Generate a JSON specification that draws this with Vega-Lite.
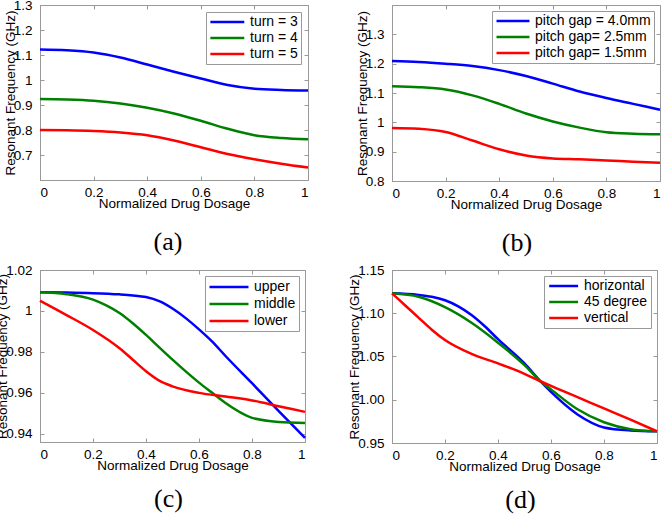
{
  "$schema": "https://vega.github.io/schema/vega-lite/v6.json",
  "padding": {"left": -5, "top": -3, "right": 0, "bottom": 0},
  "background": "white",
  "resolve": {"scale": {"color": "independent", "x": "independent", "y": "independent"}, "legend": {"color": "independent"}, "axis": {"x": "independent", "y": "independent"}},
  "config": {
    "font": "Liberation Sans",
    "view": {"stroke": "#999", "strokeWidth": 1},
    "axis": {
      "grid": false,
      "labelFont": "Liberation Sans",
      "labelFontSize": 13.5,
      "labelColor": "#000",
      "titleFont": "Liberation Sans",
      "titleFontSize": 13.5,
      "titleFontWeight": "normal",
      "titleColor": "#000",
      "domainColor": "#999",
      "tickColor": "#999",
      "tickSize": -4
    },
    "axisX": {"labelPadding": 9, "titlePadding": -2},
    "axisY": {"labelPadding": 12, "titlePadding": -4},
    "legend": {
      "orient": "top-right",
      "offset": 7,
      "title": null,
      "strokeColor": "#999",
      "fillColor": "white",
      "padding": 3,
      "labelFont": "Liberation Sans",
      "labelFontSize": 14,
      "labelColor": "#000",
      "labelLimit": 300,
      "symbolType": "M-1,0H5",
      "symbolStrokeWidth": 2.5,
      "rowPadding": 2
    },
    "title": {"font": "Liberation Serif", "fontSize": 26, "fontWeight": "normal", "color": "#000", "orient": "bottom", "frame": "group"},
    "line": {"strokeWidth": 2.5, "interpolate": "monotone"}
  },
  "datasets": {
    "a": [
      {"dosage": 0, "freq": 1.122, "series": "turn = 3"},
      {"dosage": 0.1, "freq": 1.119, "series": "turn = 3"},
      {"dosage": 0.2, "freq": 1.110, "series": "turn = 3"},
      {"dosage": 0.3, "freq": 1.090, "series": "turn = 3"},
      {"dosage": 0.4, "freq": 1.062, "series": "turn = 3"},
      {"dosage": 0.5, "freq": 1.033, "series": "turn = 3"},
      {"dosage": 0.6, "freq": 1.006, "series": "turn = 3"},
      {"dosage": 0.7, "freq": 0.980, "series": "turn = 3"},
      {"dosage": 0.8, "freq": 0.965, "series": "turn = 3"},
      {"dosage": 0.9, "freq": 0.960, "series": "turn = 3"},
      {"dosage": 1.0, "freq": 0.958, "series": "turn = 3"},
      {"dosage": 0, "freq": 0.924, "series": "turn = 4"},
      {"dosage": 0.1, "freq": 0.922, "series": "turn = 4"},
      {"dosage": 0.2, "freq": 0.917, "series": "turn = 4"},
      {"dosage": 0.3, "freq": 0.906, "series": "turn = 4"},
      {"dosage": 0.4, "freq": 0.889, "series": "turn = 4"},
      {"dosage": 0.5, "freq": 0.866, "series": "turn = 4"},
      {"dosage": 0.6, "freq": 0.837, "series": "turn = 4"},
      {"dosage": 0.7, "freq": 0.805, "series": "turn = 4"},
      {"dosage": 0.8, "freq": 0.779, "series": "turn = 4"},
      {"dosage": 0.9, "freq": 0.768, "series": "turn = 4"},
      {"dosage": 1.0, "freq": 0.763, "series": "turn = 4"},
      {"dosage": 0, "freq": 0.800, "series": "turn = 5"},
      {"dosage": 0.1, "freq": 0.799, "series": "turn = 5"},
      {"dosage": 0.2, "freq": 0.796, "series": "turn = 5"},
      {"dosage": 0.3, "freq": 0.790, "series": "turn = 5"},
      {"dosage": 0.4, "freq": 0.779, "series": "turn = 5"},
      {"dosage": 0.5, "freq": 0.758, "series": "turn = 5"},
      {"dosage": 0.6, "freq": 0.731, "series": "turn = 5"},
      {"dosage": 0.7, "freq": 0.704, "series": "turn = 5"},
      {"dosage": 0.8, "freq": 0.683, "series": "turn = 5"},
      {"dosage": 0.9, "freq": 0.665, "series": "turn = 5"},
      {"dosage": 1.0, "freq": 0.650, "series": "turn = 5"}
    ],
    "b": [
      {"dosage": 0, "freq": 1.209, "series": "pitch gap = 4.0mm"},
      {"dosage": 0.1, "freq": 1.206, "series": "pitch gap = 4.0mm"},
      {"dosage": 0.2, "freq": 1.200, "series": "pitch gap = 4.0mm"},
      {"dosage": 0.3, "freq": 1.192, "series": "pitch gap = 4.0mm"},
      {"dosage": 0.4, "freq": 1.178, "series": "pitch gap = 4.0mm"},
      {"dosage": 0.5, "freq": 1.158, "series": "pitch gap = 4.0mm"},
      {"dosage": 0.6, "freq": 1.132, "series": "pitch gap = 4.0mm"},
      {"dosage": 0.7, "freq": 1.105, "series": "pitch gap = 4.0mm"},
      {"dosage": 0.8, "freq": 1.083, "series": "pitch gap = 4.0mm"},
      {"dosage": 0.9, "freq": 1.063, "series": "pitch gap = 4.0mm"},
      {"dosage": 1.0, "freq": 1.043, "series": "pitch gap = 4.0mm"},
      {"dosage": 0, "freq": 1.123, "series": "pitch gap= 2.5mm"},
      {"dosage": 0.1, "freq": 1.120, "series": "pitch gap= 2.5mm"},
      {"dosage": 0.2, "freq": 1.112, "series": "pitch gap= 2.5mm"},
      {"dosage": 0.3, "freq": 1.092, "series": "pitch gap= 2.5mm"},
      {"dosage": 0.4, "freq": 1.063, "series": "pitch gap= 2.5mm"},
      {"dosage": 0.5, "freq": 1.030, "series": "pitch gap= 2.5mm"},
      {"dosage": 0.6, "freq": 1.003, "series": "pitch gap= 2.5mm"},
      {"dosage": 0.7, "freq": 0.982, "series": "pitch gap= 2.5mm"},
      {"dosage": 0.8, "freq": 0.966, "series": "pitch gap= 2.5mm"},
      {"dosage": 0.9, "freq": 0.961, "series": "pitch gap= 2.5mm"},
      {"dosage": 1.0, "freq": 0.959, "series": "pitch gap= 2.5mm"},
      {"dosage": 0, "freq": 0.981, "series": "pitch gap= 1.5mm"},
      {"dosage": 0.1, "freq": 0.978, "series": "pitch gap= 1.5mm"},
      {"dosage": 0.2, "freq": 0.967, "series": "pitch gap= 1.5mm"},
      {"dosage": 0.3, "freq": 0.938, "series": "pitch gap= 1.5mm"},
      {"dosage": 0.4, "freq": 0.908, "series": "pitch gap= 1.5mm"},
      {"dosage": 0.5, "freq": 0.887, "series": "pitch gap= 1.5mm"},
      {"dosage": 0.6, "freq": 0.877, "series": "pitch gap= 1.5mm"},
      {"dosage": 0.7, "freq": 0.874, "series": "pitch gap= 1.5mm"},
      {"dosage": 0.8, "freq": 0.870, "series": "pitch gap= 1.5mm"},
      {"dosage": 0.9, "freq": 0.866, "series": "pitch gap= 1.5mm"},
      {"dosage": 1.0, "freq": 0.862, "series": "pitch gap= 1.5mm"}
    ],
    "c": [
      {"dosage": 0, "freq": 1.0091, "series": "upper"},
      {"dosage": 0.1, "freq": 1.0090, "series": "upper"},
      {"dosage": 0.2, "freq": 1.0087, "series": "upper"},
      {"dosage": 0.3, "freq": 1.0081, "series": "upper"},
      {"dosage": 0.35, "freq": 1.0076, "series": "upper"},
      {"dosage": 0.4, "freq": 1.0068, "series": "upper"},
      {"dosage": 0.45, "freq": 1.0048, "series": "upper"},
      {"dosage": 0.5, "freq": 1.0012, "series": "upper"},
      {"dosage": 0.55, "freq": 0.9965, "series": "upper"},
      {"dosage": 0.6, "freq": 0.9910, "series": "upper"},
      {"dosage": 0.65, "freq": 0.9850, "series": "upper"},
      {"dosage": 0.7, "freq": 0.9780, "series": "upper"},
      {"dosage": 0.8, "freq": 0.9647, "series": "upper"},
      {"dosage": 0.9, "freq": 0.9512, "series": "upper"},
      {"dosage": 1.0, "freq": 0.9380, "series": "upper"},
      {"dosage": 0, "freq": 1.0091, "series": "middle"},
      {"dosage": 0.1, "freq": 1.0082, "series": "middle"},
      {"dosage": 0.2, "freq": 1.0055, "series": "middle"},
      {"dosage": 0.25, "freq": 1.0027, "series": "middle"},
      {"dosage": 0.3, "freq": 0.9990, "series": "middle"},
      {"dosage": 0.35, "freq": 0.9940, "series": "middle"},
      {"dosage": 0.4, "freq": 0.9883, "series": "middle"},
      {"dosage": 0.45, "freq": 0.9822, "series": "middle"},
      {"dosage": 0.5, "freq": 0.9762, "series": "middle"},
      {"dosage": 0.6, "freq": 0.9650, "series": "middle"},
      {"dosage": 0.65, "freq": 0.9600, "series": "middle"},
      {"dosage": 0.7, "freq": 0.9550, "series": "middle"},
      {"dosage": 0.8, "freq": 0.9478, "series": "middle"},
      {"dosage": 0.9, "freq": 0.9458, "series": "middle"},
      {"dosage": 1.0, "freq": 0.9453, "series": "middle"},
      {"dosage": 0, "freq": 1.0050, "series": "lower"},
      {"dosage": 0.1, "freq": 0.9980, "series": "lower"},
      {"dosage": 0.2, "freq": 0.9907, "series": "lower"},
      {"dosage": 0.3, "freq": 0.9818, "series": "lower"},
      {"dosage": 0.35, "freq": 0.9762, "series": "lower"},
      {"dosage": 0.4, "freq": 0.9706, "series": "lower"},
      {"dosage": 0.45, "freq": 0.9660, "series": "lower"},
      {"dosage": 0.5, "freq": 0.9632, "series": "lower"},
      {"dosage": 0.6, "freq": 0.9600, "series": "lower"},
      {"dosage": 0.7, "freq": 0.9582, "series": "lower"},
      {"dosage": 0.8, "freq": 0.9563, "series": "lower"},
      {"dosage": 0.9, "freq": 0.9535, "series": "lower"},
      {"dosage": 1.0, "freq": 0.9507, "series": "lower"}
    ],
    "d": [
      {"dosage": 0, "freq": 1.123, "series": "horizontal"},
      {"dosage": 0.1, "freq": 1.1212, "series": "horizontal"},
      {"dosage": 0.15, "freq": 1.119, "series": "horizontal"},
      {"dosage": 0.2, "freq": 1.115, "series": "horizontal"},
      {"dosage": 0.25, "freq": 1.108, "series": "horizontal"},
      {"dosage": 0.3, "freq": 1.098, "series": "horizontal"},
      {"dosage": 0.35, "freq": 1.085, "series": "horizontal"},
      {"dosage": 0.4, "freq": 1.070, "series": "horizontal"},
      {"dosage": 0.5, "freq": 1.042, "series": "horizontal"},
      {"dosage": 0.56, "freq": 1.0214, "series": "horizontal"},
      {"dosage": 0.6, "freq": 1.009, "series": "horizontal"},
      {"dosage": 0.7, "freq": 0.983, "series": "horizontal"},
      {"dosage": 0.8, "freq": 0.968, "series": "horizontal"},
      {"dosage": 0.9, "freq": 0.9645, "series": "horizontal"},
      {"dosage": 1.0, "freq": 0.9635, "series": "horizontal"},
      {"dosage": 0, "freq": 1.123, "series": "45 degree"},
      {"dosage": 0.1, "freq": 1.119, "series": "45 degree"},
      {"dosage": 0.2, "freq": 1.107, "series": "45 degree"},
      {"dosage": 0.3, "freq": 1.089, "series": "45 degree"},
      {"dosage": 0.4, "freq": 1.066, "series": "45 degree"},
      {"dosage": 0.5, "freq": 1.040, "series": "45 degree"},
      {"dosage": 0.56, "freq": 1.0214, "series": "45 degree"},
      {"dosage": 0.6, "freq": 1.012, "series": "45 degree"},
      {"dosage": 0.7, "freq": 0.989, "series": "45 degree"},
      {"dosage": 0.8, "freq": 0.974, "series": "45 degree"},
      {"dosage": 0.9, "freq": 0.966, "series": "45 degree"},
      {"dosage": 1.0, "freq": 0.9635, "series": "45 degree"},
      {"dosage": 0, "freq": 1.123, "series": "vertical"},
      {"dosage": 0.05, "freq": 1.109, "series": "vertical"},
      {"dosage": 0.1, "freq": 1.095, "series": "vertical"},
      {"dosage": 0.15, "freq": 1.081, "series": "vertical"},
      {"dosage": 0.2, "freq": 1.069, "series": "vertical"},
      {"dosage": 0.3, "freq": 1.053, "series": "vertical"},
      {"dosage": 0.4, "freq": 1.042, "series": "vertical"},
      {"dosage": 0.5, "freq": 1.030, "series": "vertical"},
      {"dosage": 0.56, "freq": 1.0214, "series": "vertical"},
      {"dosage": 0.6, "freq": 1.016, "series": "vertical"},
      {"dosage": 0.7, "freq": 1.003, "series": "vertical"},
      {"dosage": 0.8, "freq": 0.990, "series": "vertical"},
      {"dosage": 0.9, "freq": 0.977, "series": "vertical"},
      {"dosage": 1.0, "freq": 0.9635, "series": "vertical"}
    ]
  },
  "columns": 2,
  "spacing": {"row": 5, "column": 33},
  "concat": [
    {
      "width": 268, "height": 175,
      "data": {"name": "a"},
      "title": {"text": "(a)", "dx": -6, "offset": 19},
      "resolve": {"axis": {"x": "independent", "y": "independent"}},
      "layer": [
        {
          "mark": {"type": "line"},
          "encoding": {
            "x": {"field": "dosage", "type": "quantitative", "scale": {"domain": [0, 1]}, "axis": {"title": "Normalized Drug Dosage", "values": [0, 0.2, 0.4, 0.6, 0.8, 1], "format": "~g"}},
            "y": {"field": "freq", "type": "quantitative", "scale": {"domain": [0.6, 1.3], "zero": false}, "axis": {"title": "Resonant Frequency (GHz)", "values": [0.7, 0.8, 0.9, 1, 1.1, 1.2, 1.3], "format": "~g"}},
            "color": {"field": "series", "type": "nominal", "scale": {"domain": ["turn = 3", "turn = 4", "turn = 5"], "range": ["#0000ff", "#008000", "#ff0000"]}, "legend": {"symbolSize": 128, "labelOffset": 27}}
          }
        },
        {
          "mark": {"type": "line", "opacity": 0},
          "encoding": {
            "x": {"field": "dosage", "type": "quantitative", "scale": {"domain": [0, 1]}, "axis": {"orient": "top", "labels": false, "title": null, "domain": false, "values": [0, 0.2, 0.4, 0.6, 0.8, 1]}},
            "y": {"field": "freq", "type": "quantitative", "scale": {"domain": [0.6, 1.3], "zero": false}, "axis": {"orient": "right", "labels": false, "title": null, "domain": false, "values": [0.7, 0.8, 0.9, 1, 1.1, 1.2, 1.3]}}
          }
        }
      ]
    },
    {
      "width": 268, "height": 176,
      "data": {"name": "b"},
      "title": {"text": "(b)", "dx": -9, "offset": 19},
      "resolve": {"axis": {"x": "independent", "y": "independent"}},
      "layer": [
        {
          "mark": {"type": "line"},
          "encoding": {
            "x": {"field": "dosage", "type": "quantitative", "scale": {"domain": [0, 1]}, "axis": {"title": "Normalized Drug Dosage", "values": [0, 0.2, 0.4, 0.6, 0.8, 1], "format": "~g"}},
            "y": {"field": "freq", "type": "quantitative", "scale": {"domain": [0.8, 1.4], "zero": false}, "axis": {"title": "Resonant Frequency (GHz)", "values": [0.8, 0.9, 1, 1.1, 1.2, 1.3], "format": "~g"}},
            "color": {"field": "series", "type": "nominal", "scale": {"domain": ["pitch gap = 4.0mm", "pitch gap= 2.5mm", "pitch gap= 1.5mm"], "range": ["#0000ff", "#008000", "#ff0000"]}, "legend": {"symbolSize": 121, "labelOffset": 26, "offset": 6}}
          }
        },
        {
          "mark": {"type": "line", "opacity": 0},
          "encoding": {
            "x": {"field": "dosage", "type": "quantitative", "scale": {"domain": [0, 1]}, "axis": {"orient": "top", "labels": false, "title": null, "domain": false, "values": [0, 0.2, 0.4, 0.6, 0.8, 1]}},
            "y": {"field": "freq", "type": "quantitative", "scale": {"domain": [0.8, 1.4], "zero": false}, "axis": {"orient": "right", "labels": false, "title": null, "domain": false, "values": [0.8, 0.9, 1, 1.1, 1.2, 1.3]}}
          }
        }
      ]
    },
    {
      "width": 265, "height": 172,
      "data": {"name": "c"},
      "title": {"text": "(c)", "dx": -4, "offset": 14},
      "resolve": {"axis": {"x": "independent", "y": "independent"}},
      "layer": [
        {
          "mark": {"type": "line"},
          "encoding": {
            "x": {"field": "dosage", "type": "quantitative", "scale": {"domain": [0, 1]}, "axis": {"title": "Normalized Drug Dosage", "values": [0, 0.2, 0.4, 0.6, 0.8, 1], "format": "~g"}},
            "y": {"field": "freq", "type": "quantitative", "scale": {"domain": [0.936, 1.02], "zero": false}, "axis": {"title": "Resonant Frequency (GHz)", "values": [0.94, 0.96, 0.98, 1, 1.02], "format": "~g"}},
            "color": {"field": "series", "type": "nominal", "scale": {"domain": ["upper", "middle", "lower"], "range": ["#0000ff", "#008000", "#ff0000"]}, "legend": {"symbolSize": 169, "labelOffset": 30, "offset": 6}}
          }
        },
        {
          "mark": {"type": "line", "opacity": 0},
          "encoding": {
            "x": {"field": "dosage", "type": "quantitative", "scale": {"domain": [0, 1]}, "axis": {"orient": "top", "labels": false, "title": null, "domain": false, "values": [0, 0.2, 0.4, 0.6, 0.8, 1]}},
            "y": {"field": "freq", "type": "quantitative", "scale": {"domain": [0.936, 1.02], "zero": false}, "axis": {"orient": "right", "labels": false, "title": null, "domain": false, "values": [0.94, 0.96, 0.98, 1, 1.02]}}
          }
        }
      ]
    },
    {
      "width": 265, "height": 173,
      "data": {"name": "d"},
      "title": {"text": "(d)", "dx": -4, "offset": 14},
      "resolve": {"axis": {"x": "independent", "y": "independent"}},
      "layer": [
        {
          "mark": {"type": "line"},
          "encoding": {
            "x": {"field": "dosage", "type": "quantitative", "scale": {"domain": [0, 1]}, "axis": {"title": "Normalized Drug Dosage", "values": [0, 0.2, 0.4, 0.6, 0.8, 1], "format": "~g"}},
            "y": {"field": "freq", "type": "quantitative", "scale": {"domain": [0.95, 1.15], "zero": false}, "axis": {"title": "Resonant Frequency (GHz)", "values": [0.95, 1.0, 1.05, 1.1, 1.15], "format": ".2f"}},
            "color": {"field": "series", "type": "nominal", "scale": {"domain": ["horizontal", "45 degree", "vertical"], "range": ["#0000ff", "#008000", "#ff0000"]}, "legend": {"symbolSize": 93, "labelOffset": 23, "offset": 6}}
          }
        },
        {
          "mark": {"type": "line", "opacity": 0},
          "encoding": {
            "x": {"field": "dosage", "type": "quantitative", "scale": {"domain": [0, 1]}, "axis": {"orient": "top", "labels": false, "title": null, "domain": false, "values": [0, 0.2, 0.4, 0.6, 0.8, 1]}},
            "y": {"field": "freq", "type": "quantitative", "scale": {"domain": [0.95, 1.15], "zero": false}, "axis": {"orient": "right", "labels": false, "title": null, "domain": false, "values": [0.95, 1.0, 1.05, 1.1, 1.15]}}
          }
        }
      ]
    }
  ]
}
